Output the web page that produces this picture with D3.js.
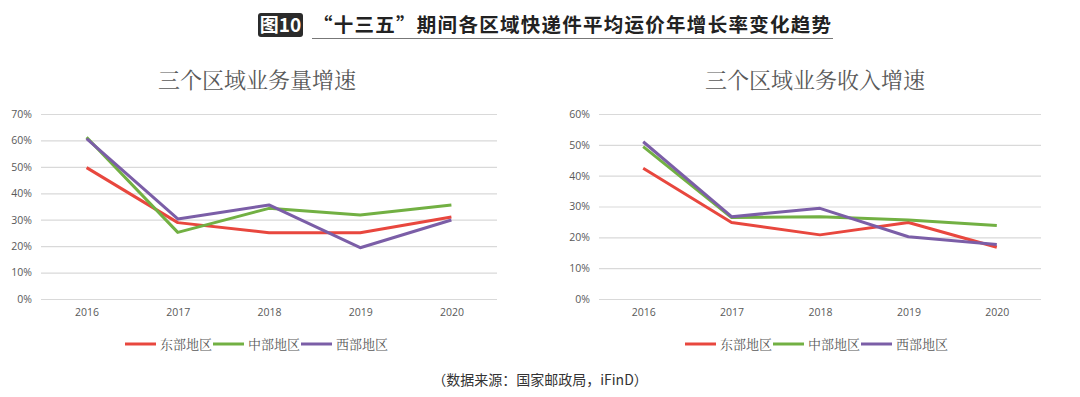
<!DOCTYPE html>
<html>
<head>
<meta charset="utf-8">
<script src="https://cdn.jsdelivr.net/npm/d3@7"></script>
<style>
  body { margin: 0; background: #fff; }
  svg { display: block; }
</style>
</head>
<body>
<svg id="chart" width="1080" height="397"></svg>
<script>
const years = ["2016", "2017", "2018", "2019", "2020"];
const regions = ["东部地区", "中部地区", "西部地区"];
const colors = ["#e8473e", "#72b043", "#7b5ea7"];

// 业务量增速 (%)
const volEast = [49.7, 28.9, 25.1, 25.1, 31.0];
const volCentral = [61.2, 25.2, 34.3, 31.8, 35.6];
const volWest = [60.7, 30.3, 35.6, 19.4, 29.9];

// 业务收入增速 (%)
const revEast = [42.4, 24.8, 20.8, 24.8, 16.8];
const revCentral = [49.4, 26.4, 26.7, 25.6, 23.8];
const revWest = [51.0, 26.7, 29.4, 20.2, 17.7];

const volTicks = [0, 10, 20, 30, 40, 50, 60, 70];
const revTicks = [0, 10, 20, 30, 40, 50, 60];

const svg = d3.select("#chart");

// main title
const tg = svg.append("g");
tg.append("rect").attr("x", 258).attr("y", 13).attr("width", 45).attr("height", 24)
  .attr("rx", 3).attr("fill", "#2b2b2b");
tg.append("text").attr("x", 280.5).attr("y", 32).attr("text-anchor", "middle")
  .attr("fill", "#fff").attr("font-family", "Noto Sans CJK SC").attr("font-weight", "bold")
  .attr("font-size", 19).text("图10");
tg.append("text").attr("x", 313).attr("y", 32)
  .attr("fill", "#222").attr("font-family", "Noto Sans CJK SC").attr("font-weight", "bold")
  .attr("font-size", 19.5).attr("textLength", 518).text("“十三五”期间各区域快递件平均运价年增长率变化趋势");
tg.append("line").attr("x1", 312).attr("x2", 833).attr("y1", 38.5).attr("y2", 38.5)
  .attr("stroke", "#777").attr("stroke-width", 1.2);

function drawChart(opt) {
  const g = svg.append("g");
  const x = d3.scalePoint().domain(years).range([opt.x0, opt.x1]).padding(0.5);
  const y = d3.scaleLinear().domain([0, opt.max]).range([299, 114]);

  g.append("text").attr("x", opt.titleX).attr("y", 88).attr("text-anchor", "middle")
    .attr("font-family", "Noto Serif CJK SC, Noto Sans CJK SC, serif").attr("font-size", 22)
    .attr("fill", "#595959").text(opt.title);

  const yAxis = d3.axisLeft(y).tickValues(opt.ticks).tickFormat(d => d + "%")
    .tickSize(-(opt.x1 - opt.x0)).tickPadding(9);
  const ya = g.append("g").attr("transform", `translate(${opt.x0},0)`).call(yAxis);
  ya.select(".domain").remove();
  ya.selectAll(".tick line").attr("stroke", "#d9d9d9").attr("stroke-width", 1.2);
  ya.selectAll(".tick text").attr("fill", "#595959").attr("font-size", 10.5)
    .attr("font-family", "Open Sans, sans-serif");

  const xAxis = d3.axisBottom(x).tickSize(0).tickPadding(10);
  const xa = g.append("g").attr("transform", "translate(0,299)").call(xAxis);
  xa.select(".domain").remove();
  xa.selectAll(".tick text").attr("fill", "#595959").attr("font-size", 10.5)
    .attr("font-family", "Open Sans, sans-serif");

  const line = d3.line().x((d, i) => x(years[i])).y(d => y(d));
  opt.series.forEach((s, i) => {
    g.append("path").datum(s).attr("d", line).attr("fill", "none")
      .attr("stroke", colors[i]).attr("stroke-width", 3).attr("stroke-linejoin", "round");
  });

  // legend
  const lg = g.append("g").attr("transform", `translate(${opt.legendX},344)`);
  const offs = [0, 88, 176];
  regions.forEach((r, i) => {
    lg.append("line").attr("x1", offs[i]).attr("x2", offs[i] + 31).attr("y1", 0).attr("y2", 0)
      .attr("stroke", colors[i]).attr("stroke-width", 3);
    lg.append("text").attr("x", offs[i] + 35).attr("y", 5)
      .attr("font-family", "Noto Serif CJK SC, Noto Sans CJK SC, serif").attr("font-size", 13)
      .attr("fill", "#595959").text(r);
  });
}

drawChart({
  x0: 41, x1: 497, max: 70, ticks: volTicks, title: "三个区域业务量增速", titleX: 257,
  series: [volEast, volCentral, volWest], legendX: 125
});
drawChart({
  x0: 599, x1: 1041, max: 60, ticks: revTicks, title: "三个区域业务收入增速", titleX: 815,
  series: [revEast, revCentral, revWest], legendX: 685
});

svg.append("text").attr("x", 540).attr("y", 385).attr("text-anchor", "middle")
  .attr("font-family", "Noto Sans CJK SC").attr("font-size", 14).attr("fill", "#333")
  .text("（数据来源：国家邮政局，iFinD）");
</script>
</body>
</html>
